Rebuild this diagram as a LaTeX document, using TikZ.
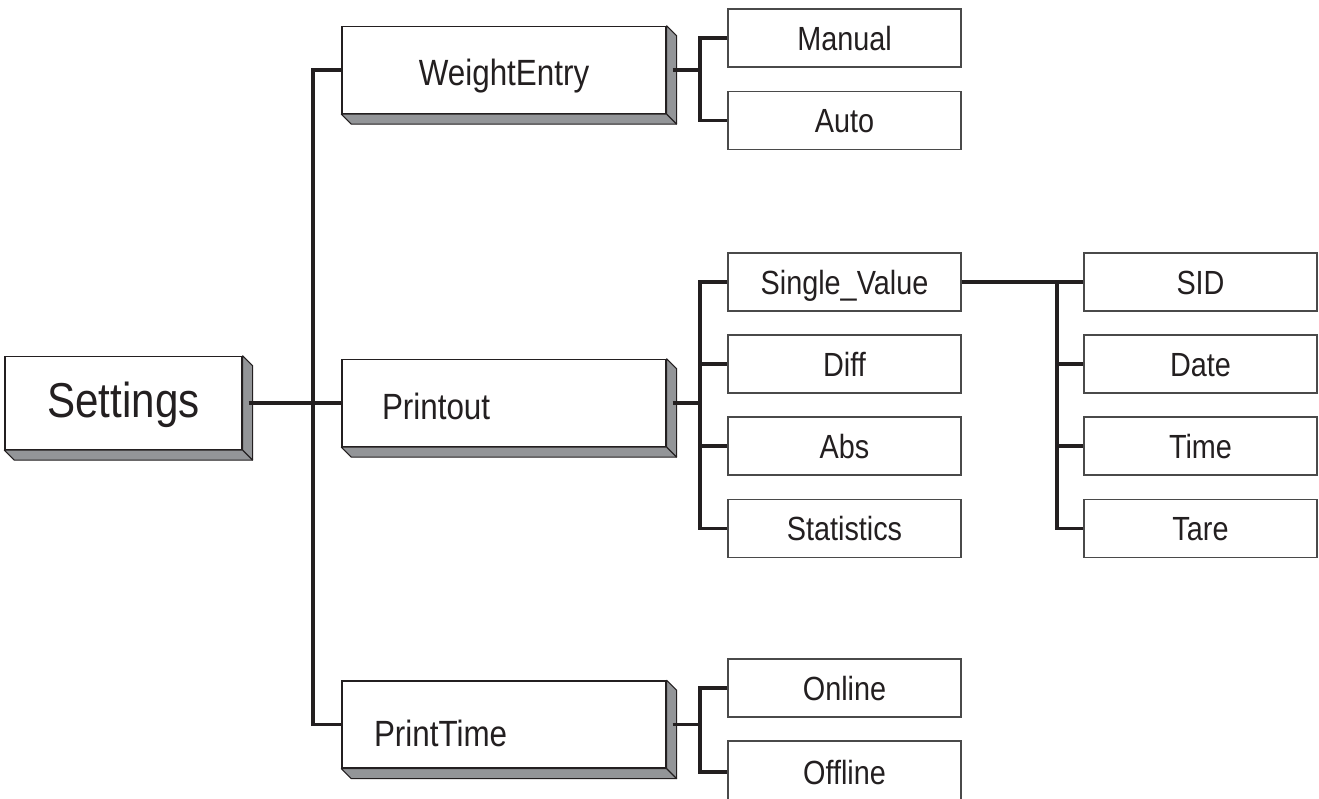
\documentclass[tikz,border=0pt]{standalone}
\usepackage{fontspec}
\setmainfont[FakeStretch=0.86]{Liberation Sans}
\definecolor{ink}{HTML}{231F20}
\definecolor{boxline}{HTML}{4A4A4A}
\definecolor{shadowgray}{HTML}{939598}
\newcommand\mkshadow[1]{%
  \draw[shade] (#1.north east) -- ([shift={(10,10)}]#1.north east) -- ([shift={(10,10)}]#1.south east) -- ([shift={(10,10)}]#1.south west) -- (#1.south west) -- (#1.south east) -- cycle;
  \draw[shade] (#1.south east) -- ([shift={(10,10)}]#1.south east);}
\begin{document}
\begin{tikzpicture}[x=1pt,y=-1pt,
  conn/.style={line width=3.2pt, draw=ink},
  leaf/.style={draw=boxline, line width=1.3pt, fill=white, minimum width=233pt, minimum height=58pt, inner sep=0pt, text height=24pt, text depth=0pt, font=\fontsize{33.5}{36}\selectfont, text=ink},
  lvl/.style={draw=ink, line width=1.3pt, fill=white, minimum width=324pt, minimum height=87pt, inner sep=0pt, font=\fontsize{36.5}{40}\selectfont, text=ink, text height=32pt, text depth=0pt},
  shade/.style={fill=shadowgray, draw=ink, line width=1.1pt, line join=round}]
\useasboundingbox (0,0) rectangle (1319,798);
\fill[white] (0,0) rectangle (1319,798);

% root
\node[lvl, minimum width=237pt, minimum height=93pt, font=\fontsize{49}{52}\selectfont, text height=28pt] (settings) at (123.5,403) {Settings};

% level 1
\node[lvl, text height=30pt] (weight) at (504,70) {WeightEntry};
\node[lvl, text width=244pt, align=left] (printout) at (504,403) {Printout};
\node[lvl, text width=260pt, align=left, text height=43pt] (printtime) at (504,724.5) {PrintTime};

\mkshadow{settings}
\mkshadow{weight}
\mkshadow{printout}
\mkshadow{printtime}

% level 2
\node[leaf] (manual) at (844.5,38) {Manual};
\node[leaf] (auto) at (844.5,120.5) {Auto};
\node[leaf] (single) at (844.5,282) {Single\_Value};
\node[leaf] (diff) at (844.5,364) {Diff};
\node[leaf] (abs) at (844.5,446) {Abs};
\node[leaf] (stat) at (844.5,528.5) {Statistics};
\node[leaf] (online) at (844.5,688) {Online};
\node[leaf, minimum height=62pt] (offline) at (844.5,772) {Offline};

% level 3
\node[leaf] (sid) at (1200.5,282) {SID};
\node[leaf] (date) at (1200.5,364) {Date};
\node[leaf] (time) at (1200.5,446) {Time};
\node[leaf] (tare) at (1200.5,528.5) {Tare};

% spines
\coordinate (trunk) at (313,0);
\coordinate (s2) at (700,0);
\coordinate (s3) at (1057,0);

% root connectors
\draw[conn] ([xshift=6pt]settings.east) -- (printout.west);
\draw[conn] (weight.west) -- (weight.west -| trunk) -- (printtime.west -| trunk) -- (printtime.west);

% WeightEntry
\draw[conn] ([xshift=6pt]weight.east) -- (weight.east -| s2);
\draw[conn] (manual.west) -- (manual.west -| s2) -- (auto.west -| s2) -- (auto.west);

% Printout
\draw[conn] ([xshift=6pt]printout.east) -- (printout.east -| s2);
\draw[conn] (single.west) -- (single.west -| s2) -- (stat.west -| s2) -- (stat.west);
\draw[conn] (diff.west -| s2) -- (diff.west);
\draw[conn] (abs.west -| s2) -- (abs.west);

% PrintTime
\draw[conn] ([xshift=6pt]printtime.east) -- (printtime.east -| s2);
\draw[conn] (online.west) -- (online.west -| s2) -- (offline.west -| s2) -- (offline.west);

% Single_Value
\draw[conn] (single.east) -- (sid.west);
\draw[conn] (sid.west -| s3) -- (tare.west -| s3) -- (tare.west);
\draw[conn] (date.west -| s3) -- (date.west);
\draw[conn] (time.west -| s3) -- (time.west);
\end{tikzpicture}
\end{document}
